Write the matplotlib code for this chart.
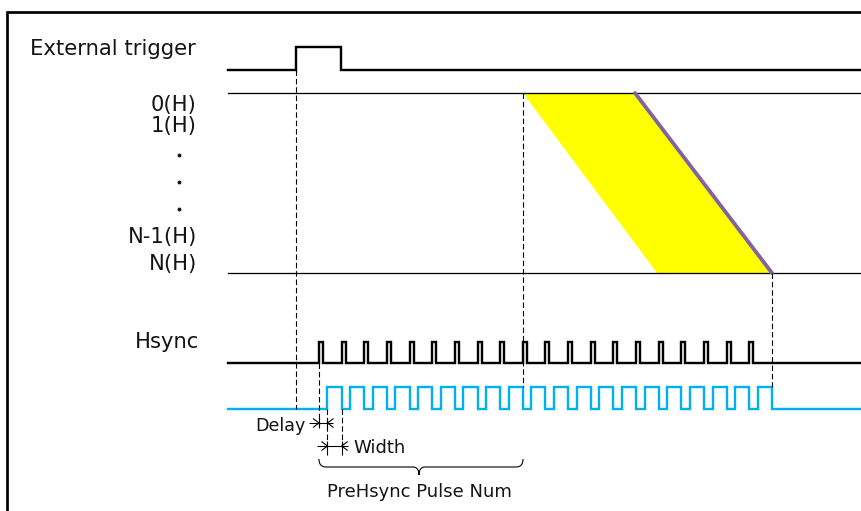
import numpy as np
import matplotlib
matplotlib.use("Agg")
import matplotlib.pyplot as plt
from matplotlib.path import Path
from matplotlib.patches import PathPatch, Polygon

# ---------------- data (diagram units = pixels of the 862x511 canvas) ----------------
signal_start = 228
signal_end = 862

trigger_edges = [296, 341]            # rise, fall of external trigger
trigger_levels = [70, 47]             # low, high

row_levels = [93, 273]                # 0(H) line, N(H) line
readout_top = [523, 635]              # yellow band on 0(H)
readout_bottom = [657, 772]           # yellow band on N(H)

hsync_first = 319
hsync_period = 22.65
hsync_count = 20
hsync_width = 4
hsync_levels = [363, 342]

out_delay = 8.5
out_levels = [409, 387]

row_labels = ["0(H)", "1(H)", "N-1(H)", "N(H)"]
row_label_y = [111, 132, 243, 270]
dot_y = [155, 182, 209]

# ---------------- figure ----------------
W, H = 862, 511
fig = plt.figure(figsize=(W / 100, H / 100), dpi=100)
ax = fig.add_axes([0, 0, 1, 1])
ax.set_xlim(0, W)
ax.set_ylim(H, 0)
ax.axis("off")

px = 0.72  # points per pixel
BLACK = "#000000"
BLUE = "#00B0F0"
PURPLE = "#8064A2"
YELLOW = "#FFFF00"
FONT = "DejaVu Sans"
TXT = "#141414"

# frame
ax.plot([7, 7, W + 5], [H + 5, 12, 12], color=BLACK, lw=2.7 * px,
        solid_joinstyle="miter", solid_capstyle="butt")

# external trigger
tx = [signal_start, trigger_edges[0], trigger_edges[0], trigger_edges[1], trigger_edges[1], signal_end]
ty = [trigger_levels[0], trigger_levels[0], trigger_levels[1], trigger_levels[1], trigger_levels[0], trigger_levels[0]]
ax.plot(tx, ty, color=BLACK, lw=2.4 * px, solid_joinstyle="miter")

# row lines
for y in row_levels:
    ax.plot([signal_start, signal_end], [y, y], color=BLACK, lw=1.3 * px, zorder=3)

# readout band
poly = Polygon([(readout_top[0], row_levels[0]), (readout_top[1], row_levels[0]),
                (readout_bottom[1], row_levels[1]), (readout_bottom[0], row_levels[1])],
               closed=True, facecolor=YELLOW, edgecolor="none", zorder=2)
ax.add_patch(poly)
ax.plot([readout_top[1], readout_bottom[1]], row_levels, color=PURPLE, lw=3.8 * px,
        solid_capstyle="round", zorder=4)

# hsync
hx, hy = [signal_start], [hsync_levels[0]]
for i in range(hsync_count):
    r = hsync_first + i * hsync_period
    f = r + hsync_width
    hx += [r, r, f, f]
    hy += [hsync_levels[0], hsync_levels[1], hsync_levels[1], hsync_levels[0]]
hx.append(signal_end)
hy.append(hsync_levels[0])
ax.plot(hx, hy, color=BLACK, lw=2.4 * px, solid_joinstyle="miter")

# output (blue)
bx, by = [signal_start], [out_levels[0]]
for i in range(hsync_count):
    r = hsync_first + i * hsync_period + out_delay
    f = hsync_first + (i + 1) * hsync_period
    bx += [r, r, f, f]
    by += [out_levels[0], out_levels[1], out_levels[1], out_levels[0]]
bx.append(signal_end)
by.append(out_levels[0])
ax.plot(bx, by, color=BLUE, lw=2.4 * px, solid_joinstyle="miter")

# dashed guides
last_edge = hsync_first + hsync_count * hsync_period
d_kw = dict(color=BLACK, lw=1.1 * px, linestyle=(0, (5, 2.6)), zorder=5)
ax.plot([trigger_edges[0]] * 2, [trigger_levels[0], out_levels[0]], **d_kw)
ax.plot([readout_top[0]] * 2, [row_levels[0], out_levels[1]], **d_kw)
ax.plot([last_edge] * 2, [row_levels[1], out_levels[1]], **d_kw)
delay_y, width_y = 423, 446
ax.plot([hsync_first] * 2, [hsync_levels[0], delay_y + 3], **d_kw)
ax.plot([hsync_first + out_delay] * 2, [out_levels[0], 455], **d_kw)
ax.plot([hsync_first + hsync_period] * 2, [out_levels[0], 455], **d_kw)


def dim(a, b, y):
    k = dict(color=BLACK, lw=1.1 * px, solid_capstyle="butt")
    ax.plot([a - 10, b + 6], [y, y], **k)
    for x in (a, b):
        ax.plot([x, x], [y - 5, y + 5], **k)
    ax.plot([a - 6, a, a - 6], [y - 4.5, y, y + 4.5], **k)
    ax.plot([b + 6, b, b + 6], [y - 4.5, y, y + 4.5], **k)


dim(hsync_first, hsync_first + out_delay, delay_y)
dim(hsync_first + out_delay, hsync_first + hsync_period, width_y)

# brace
bl, br = hsync_first, readout_top[0]
bc = (bl + br) / 2 - 2
top, mid, tip = 459, 467, 475
verts = [(bl, top), (bl, mid - 3), (bl + 2, mid), (bl + 7, mid),
         (bc - 6, mid), (bc - 2, mid), (bc, mid + 3), (bc, tip),
         (bc, mid + 3), (bc + 2, mid), (bc + 6, mid),
         (br - 7, mid), (br - 2, mid), (br, mid - 3), (br, top)]
codes = [Path.MOVETO, Path.CURVE4, Path.CURVE4, Path.CURVE4,
         Path.LINETO, Path.CURVE4, Path.CURVE4, Path.CURVE4,
         Path.CURVE4, Path.CURVE4, Path.CURVE4,
         Path.LINETO, Path.CURVE4, Path.CURVE4, Path.CURVE4]
ax.add_patch(PathPatch(Path(verts, codes), facecolor="none", edgecolor=BLACK, lw=1.1 * px))

# texts
ax.text(30, 55, "External trigger", fontsize=15.2, family=FONT, color=TXT, va="baseline", ha="left")
for lab, y in zip(row_labels, row_label_y):
    ax.text(197, y, lab, fontsize=15.2, family=FONT, color=TXT, va="baseline", ha="right")
ax.plot([179] * len(dot_y), dot_y, "o", color=TXT, markersize=2.8, markeredgewidth=0)
ax.text(199, 348, "Hsync", fontsize=15.2, family=FONT, color=TXT, va="baseline", ha="right")
ax.text(306, 431, "Delay", fontsize=12.6, family=FONT, color=TXT, va="baseline", ha="right")
ax.text(353, 453, "Width", fontsize=13.0, family=FONT, color=TXT, va="baseline", ha="left")
ax.text(419, 497, "PreHsync Pulse Num", fontsize=13.0, family=FONT, color=TXT, va="baseline", ha="center")

fig.savefig("out.png", dpi=100)
